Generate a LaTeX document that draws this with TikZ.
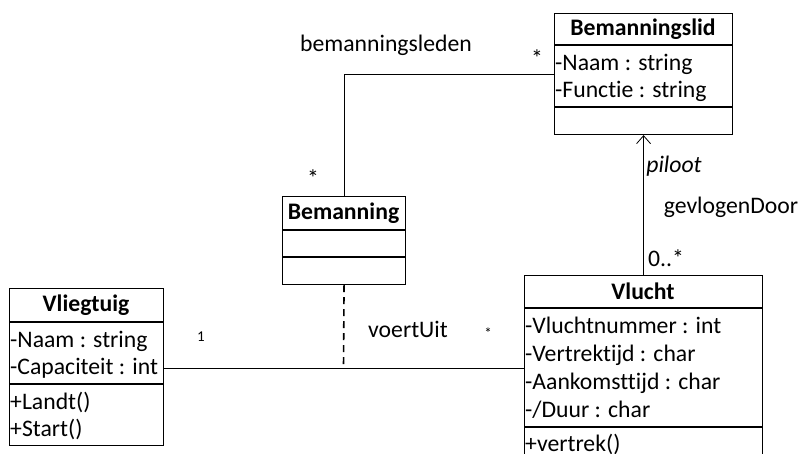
\documentclass[tikz,border=0pt]{standalone}
\usepackage{fontspec}
\setmainfont[Ligatures=NoCommon]{Carlito}
\usetikzlibrary{arrows.meta}
\begin{document}
\begin{tikzpicture}[x=1pt,y=-1pt,
  classbox/.style={draw, line width=1.1pt, inner sep=0pt, anchor=north west},
  sep/.style={line width=1.1pt},
  title/.style={font=\fontsize{23.7}{28}\selectfont\bfseries, inner sep=0pt},
  attr/.style={font=\fontsize{23.7}{28}\selectfont, inner sep=0pt, anchor=base west},
  lbl/.style={font=\fontsize{23.7}{28}\selectfont, inner sep=0pt},
  small/.style={font=\fontsize{15}{18}\selectfont, inner sep=0pt},
  link/.style={line width=0.8pt}]
\useasboundingbox (0,0) rectangle (799,454);

% class Bemanningslid
\node[classbox, minimum width=178pt, minimum height=121pt] (lid) at (554,13) {};
\draw[sep] (554,45) -- (732,45);
\draw[sep] (554,107) -- (732,107);
\node[title] (lidT) at (643,29) {Bemanningslid};
\node[attr] (lidA1) at (555,70.5) {-Naam : string};
\node[attr] (lidA2) at (555,97.5) {-Functie : string};

% class Bemanning
\node[classbox, minimum width=123pt, minimum height=88pt] (crew) at (282,196) {};
\draw[sep] (282,230) -- (405,230);
\draw[sep] (282,257) -- (405,257);
\node[title] (crewT) at (343.5,213) {Bemanning};

% class Vliegtuig
\node[classbox, minimum width=154pt, minimum height=157pt] (plane) at (9,288) {};
\draw[sep] (9,322) -- (163,322);
\draw[sep] (9,384) -- (163,384);
\node[title] (planeT) at (86,305) {Vliegtuig};
\node[attr] (planeA1) at (10,347) {-Naam : string};
\node[attr] (planeA2) at (10,374) {-Capaciteit : int};
\node[attr] (planeM1) at (10,409) {+Landt()};
\node[attr] (planeM2) at (10,436) {+Start()};

% class Vlucht
\node[classbox, minimum width=238pt, minimum height=195pt] (flight) at (524,275) {};
\draw[sep] (524,308) -- (762,308);
\draw[sep] (524,427) -- (762,427);
\node[title] (flightT) at (643,291) {Vlucht};
\node[attr] (flightA1) at (525,333) {-Vluchtnummer : int};
\node[attr] (flightA2) at (525,361) {-Vertrektijd : char};
\node[attr] (flightA3) at (525,389) {-Aankomsttijd : char};
\node[attr] (flightA4) at (525,417) {-/Duur : char};
\node[attr] (flightM1) at (525,451) {+vertrek()};

% association voertUit with association class Bemanning
\coordinate (assoc) at (343.5,368);
\draw[link] (plane.east |- assoc) -- (flight.west |- assoc);
\draw[line width=1.6pt, dash pattern=on 7pt off 5pt] (crew.south) -- (assoc);
\node[lbl] (voert) at (408,329) {voertUit};
\node[small] (m1) at (201,337) {1};
\node[small] (m2) at (488,333) {*};

% association bemanningsleden
\draw[link] (crew.north) |- (lid.west);
\node[lbl] (leden) at (386,45) {bemanningsleden};
\node[lbl] (s1) at (537,58) {*};
\node[lbl] (s2) at (313,178) {*};

% directed association piloot / gevlogenDoor
\draw[link, -{Straight Barb[length=8pt, width=14pt]}] (flight.north) -- (lid.south);
\node[lbl, font=\fontsize{23.7}{28}\selectfont\itshape] (pil) at (674,166) {piloot};
\node[lbl] (gev) at (731,207) {gevlogenDoor};
\node[lbl] (mult) at (666,258) {0..*};
\end{tikzpicture}
\end{document}
